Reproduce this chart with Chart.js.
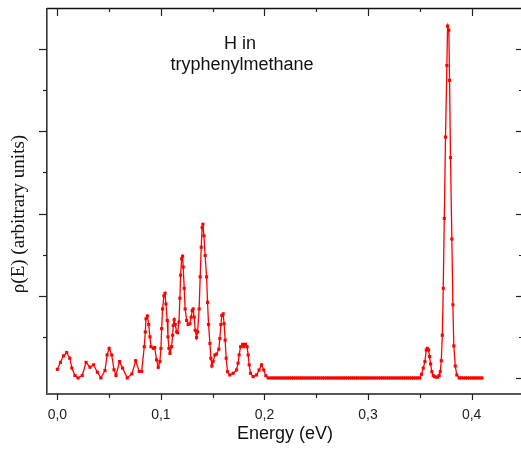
<!DOCTYPE html>
<html>
  <head>
    <title>H in tryphenylmethane</title>
    <script src="https://cdn.jsdelivr.net/npm/chart.js"></script>
    <style>
      html,
      body {
        margin: 0;
        background: #ffffff;
        overflow: hidden;
      }
      #wrap {
        width: 526px;
        height: 455px;
        position: relative;
      }
    </style>
  </head>
  <body>
    <div id="wrap"><canvas id="dosChart"></canvas></div>

    <script>
      // energy in eV, rho in arbitrary units
      let energy = [
        0.000, 0.003, 0.006, 0.009, 0.012, 0.014, 0.017, 0.020, 0.024, 0.0277,
        0.0315, 0.035, 0.0386, 0.042, 0.046, 0.048, 0.050, 0.0525, 0.0547, 0.0566,
        0.060, 0.063, 0.0675, 0.072, 0.0756, 0.079, 0.0814, 0.0839, 0.0849, 0.0856,
        0.0869, 0.0882, 0.0894, 0.0904, 0.0926, 0.094, 0.0958, 0.0974,
        0.0990, 0.1000, 0.1007, 0.1016, 0.1029, 0.1039, 0.1048, 0.1061, 0.1068, 0.1077,
        0.1087, 0.1103, 0.1113, 0.1119, 0.1128, 0.1138, 0.1152, 0.1161, 0.1174, 0.1183,
        0.1190, 0.1200, 0.1209, 0.1215, 0.1225, 0.1234, 0.1248, 0.1263, 0.1280, 0.1292,
        0.1302, 0.1311, 0.1321, 0.1331, 0.1344, 0.1354, 0.1369, 0.1379, 0.1389, 0.1398,
        0.1405, 0.1415, 0.1427, 0.1441, 0.1450, 0.1460, 0.1473, 0.1482, 0.1492, 0.1504,
        0.1521, 0.1537, 0.1559, 0.1569, 0.1579, 0.1588, 0.1601, 0.1610, 0.1620, 0.1630,
        0.1643, 0.1665, 0.1697, 0.1730, 0.1745, 0.1755, 0.1769, 0.1788, 0.1800, 0.1817,
        0.1832, 0.1842, 0.1852, 0.1865, 0.1890, 0.1923, 0.1948, 0.1971, 0.1993, 0.2013,
        0.2035,
        0.206, 0.208, 0.210, 0.212, 0.214, 0.216, 0.218, 0.220, 0.222, 0.224,
        0.226, 0.228, 0.230, 0.232, 0.234, 0.236, 0.238, 0.240, 0.242, 0.244,
        0.246, 0.248, 0.250, 0.252, 0.254, 0.256, 0.258, 0.260, 0.262, 0.264,
        0.266, 0.268, 0.270, 0.272, 0.274, 0.276, 0.278, 0.280, 0.282, 0.284,
        0.286, 0.288, 0.290, 0.292, 0.294, 0.296, 0.298, 0.300, 0.302, 0.304,
        0.306, 0.308, 0.310, 0.312, 0.314, 0.316, 0.318, 0.320, 0.322, 0.324,
        0.326, 0.328, 0.330, 0.332, 0.334, 0.336, 0.338, 0.340, 0.342, 0.344,
        0.346, 0.348, 0.350,
        0.3516, 0.3533, 0.3549, 0.3562, 0.3572, 0.3584, 0.3594, 0.3604, 0.3616, 0.3629,
        0.3642, 0.3658, 0.3674, 0.3687, 0.3697, 0.3707, 0.3717, 0.3726, 0.3736, 0.3748,
        0.3761, 0.3768, 0.3780, 0.3787, 0.3796, 0.3809, 0.3819, 0.3828, 0.3842, 0.3857,
        0.388, 0.390, 0.392, 0.394, 0.396, 0.398, 0.400, 0.402, 0.404, 0.406,
        0.408, 0.410,
      ];

      let rho = [
        0.105, 0.19, 0.27, 0.31, 0.24, 0.12, 0.03, 0, 0.03, 0.19,
        0.13, 0.16, 0.07, 0, 0.09, 0.28, 0.36, 0.28, 0.10, 0.03,
        0.20, 0.12, 0, 0.05, 0.21, 0.08, 0.08, 0.38, 0.56, 0.72,
        0.755, 0.65, 0.50, 0.38, 0.36, 0.37, 0.22, 0.13,
        0.20, 0.36, 0.60, 0.84, 1.00, 1.03, 0.90, 0.70, 0.50, 0.36,
        0.30, 0.38, 0.52, 0.64, 0.71, 0.65, 0.56, 0.55, 0.68, 0.97,
        1.25, 1.45, 1.48, 1.35, 1.09, 0.84, 0.70, 0.65, 0.66, 0.74,
        0.82, 0.84, 0.74, 0.58, 0.49, 0.56, 0.84, 1.23, 1.59, 1.83,
        1.87, 1.73, 1.49, 1.23, 0.92, 0.65, 0.42, 0.24, 0.145, 0.20,
        0.28, 0.29, 0.35, 0.48, 0.65, 0.76, 0.78, 0.66, 0.46, 0.24,
        0.076, 0.036, 0.057, 0.097, 0.18, 0.28, 0.38, 0.41, 0.38, 0.41,
        0.38, 0.28, 0.16, 0.057, 0.016, 0.036, 0.097, 0.16, 0.097, 0.028,
        0,
        0, 0, 0, 0, 0, 0, 0, 0, 0, 0,
        0, 0, 0, 0, 0, 0, 0, 0, 0, 0,
        0, 0, 0, 0, 0, 0, 0, 0, 0, 0,
        0, 0, 0, 0, 0, 0, 0, 0, 0, 0,
        0, 0, 0, 0, 0, 0, 0, 0, 0, 0,
        0, 0, 0, 0, 0, 0, 0, 0, 0, 0,
        0, 0, 0, 0, 0, 0, 0, 0, 0, 0,
        0, 0, 0,
        0.045, 0.12, 0.20, 0.34, 0.36, 0.34, 0.26, 0.17, 0.076, 0.03,
        0.016, 0.01, 0.01, 0.03, 0.076, 0.21, 0.52, 1.09, 1.94, 2.93,
        3.80, 4.28, 4.23, 3.62, 2.68, 1.69, 0.89, 0.39, 0.145, 0.036,
        0, 0, 0, 0, 0, 0, 0, 0, 0, 0,
        0, 0,
      ];

      let xMajor = [0, 0.1, 0.2, 0.3, 0.4];
      let xMinor = [0.05, 0.15, 0.25, 0.35];
      let yMajor = [0, 1, 2, 3, 4];
      let yMinor = [0.5, 1.5, 2.5, 3.5];
      let xLabels = ["0,0", "0,1", "0,2", "0,3", "0,4"];
      let noteLines = ["H in", "tryphenylmethane"];

      let points = energy.map((e, i) => ({ x: e, y: rho[i] }));

      // frame, ticks and text in the Origin style
      let originFrame = {
        id: "originFrame",
        afterDraw(chart) {
          let c = chart.ctx;
          let a = chart.chartArea;
          let xs = chart.scales.x;
          let ys = chart.scales.y;
          let rightTickX = 521;
          c.save();

          // clear the strip past the picture edge
          c.fillStyle = "#ffffff";
          c.fillRect(517, 0, 20, 455);

          // top line
          c.strokeStyle = "#111";
          c.lineWidth = 1.3;
          c.beginPath();
          c.moveTo(a.left, a.top + 0.5);
          c.lineTo(a.right, a.top + 0.5);
          c.stroke();
          // left axis
          c.strokeStyle = "#333";
          c.lineWidth = 1.6;
          c.beginPath();
          c.moveTo(a.left - 0.2, a.top);
          c.lineTo(a.left - 0.2, a.bottom);
          c.stroke();
          // bottom axis
          c.strokeStyle = "#555";
          c.lineWidth = 2;
          c.beginPath();
          c.moveTo(a.left - 1, a.bottom);
          c.lineTo(a.right, a.bottom);
          c.stroke();

          c.strokeStyle = "#222";
          c.lineWidth = 1.2;
          let tick = (x1, y1, x2, y2) => {
            c.beginPath();
            c.moveTo(x1, y1);
            c.lineTo(x2, y2);
            c.stroke();
          };
          xMajor.forEach((v) => {
            let px = Math.round(xs.getPixelForValue(v)) + 0.5;
            tick(px, a.bottom, px, a.bottom + 6);
            tick(px, a.top, px, a.top + 8);
          });
          xMinor.forEach((v) => {
            let px = Math.round(xs.getPixelForValue(v)) + 0.5;
            tick(px, a.bottom, px, a.bottom + 4);
            tick(px, a.top, px, a.top + 4);
          });
          yMajor.forEach((v) => {
            let py = Math.round(ys.getPixelForValue(v)) + 0.5;
            if (v > 0) tick(a.left, py, a.left - 8, py);
            tick(rightTickX, py, rightTickX - 5, py);
          });
          yMinor.forEach((v) => {
            let py = Math.round(ys.getPixelForValue(v)) + 0.5;
            tick(a.left, py, a.left - 4, py);
            tick(rightTickX, py, rightTickX - 2, py);
          });

          // tick labels
          c.fillStyle = "#222";
          c.font = "14px 'Liberation Sans', Arial, sans-serif";
          c.textAlign = "center";
          c.textBaseline = "middle";
          xMajor.forEach((v, i) => {
            c.fillText(xLabels[i], xs.getPixelForValue(v), 415);
          });

          // axis titles
          c.fillStyle = "#111";
          c.font = "18px 'Liberation Sans', Arial, sans-serif";
          c.fillText("Energy (eV)", 285, 434);

          c.save();
          c.translate(19, 214);
          c.rotate(-Math.PI / 2);
          c.font = "19px 'Liberation Serif', 'Times New Roman', serif";
          c.fillText("\u03c1(E) (arbitrary units)", 0, 0);
          c.restore();

          // annotation
          c.font = "18px 'Liberation Sans', Arial, sans-serif";
          c.fillText(noteLines[0], 240, 44);
          c.fillText(noteLines[1], 242, 65);

          c.restore();
        },
      };

      let ctx = document.getElementById("dosChart").getContext("2d");
      let chart = new Chart(ctx, {
        type: "scatter",
        data: {
          datasets: [
            {
              data: points,
              showLine: true,
              borderColor: "#ff0000",
              borderWidth: 1.3,
              pointStyle: "rect",
              pointRadius: 2.2,
              pointBackgroundColor: "#ff0000",
              pointBorderWidth: 0,
              tension: 0,
            },
          ],
        },
        options: {
          responsive: true,
          maintainAspectRatio: false,
          animation: false,
          layout: {
            autoPadding: false,
            padding: { top: 8, right: 0, left: 0, bottom: 0 },
          },
          plugins: {
            legend: { display: false },
            tooltip: { enabled: false },
          },
          scales: {
            x: {
              type: "linear",
              min: -0.01,
              max: 0.4525,
              ticks: { display: false },
              grid: { display: false },
              border: { display: false },
              afterFit: (s) => {
                s.height = 61;
              },
            },
            y: {
              min: -0.195,
              max: 4.5,
              ticks: { display: false },
              grid: { display: false },
              border: { display: false },
              afterFit: (s) => {
                s.width = 47;
              },
            },
          },
        },
        plugins: [originFrame],
      });
    </script>
  </body>
</html>
